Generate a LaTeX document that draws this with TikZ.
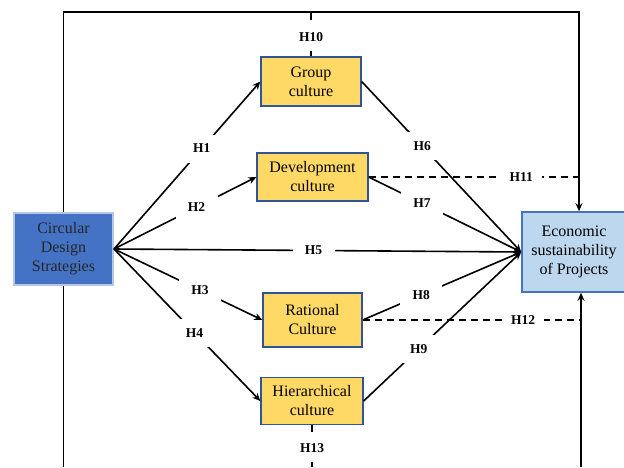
\documentclass[tikz,border=0pt]{standalone}
\usepackage{fontspec}
\setmainfont{Liberation Serif}
\usetikzlibrary{arrows.meta}
\definecolor{gold}{HTML}{FFD966}
\definecolor{edgeblue}{HTML}{2F5597}
\definecolor{strongblue}{HTML}{4472C4}
\definecolor{paleblue}{HTML}{BDD7EE}
\definecolor{lineblue}{HTML}{B4C7E7}
\begin{document}
\begin{tikzpicture}[
  x=1pt, y=-1pt,
  font=\fontsize{16}{19}\selectfont,
  box/.style={draw=edgeblue, line width=1.3pt, align=center, inner sep=2pt, fill=gold},
  source/.style={box, draw=lineblue, line width=2pt, fill=strongblue, text=black!85},
  target/.style={box, draw=strongblue, line width=1.6pt, fill=paleblue},
  hyp/.style={font=\fontsize{13.5}{15}\selectfont\bfseries, fill=white, inner sep=0pt,
              minimum width=42pt, minimum height=28pt},
  flow/.style={draw, line width=1.6pt, -{Stealth[length=8pt,width=7pt]}},
  link/.style={draw, line width=1.6pt},
  mod/.style={draw, line width=1.6pt, dash pattern=on 7pt off 5pt},
]
\useasboundingbox (0,0) rectangle (624,467);

% ---------------- the variables ----------------
\node[source, minimum width=99pt, minimum height=72pt] (cds) at (63.5,249)
  {Circular\\Design\\Strategies};
\node[box, minimum width=100pt, minimum height=49pt] (group) at (311,81.5)   {Group\\culture};
\node[box, minimum width=111pt, minimum height=48pt] (dev)   at (312.5,177)  {Development\\culture};
\node[box, minimum width=99pt,  minimum height=54pt] (rat)   at (312.5,320)  {Rational\\Culture};
\node[box, minimum width=102pt, minimum height=47pt] (hier)  at (312,401)    {Hierarchical\\culture};
\node[target, minimum width=104pt, minimum height=80pt] (econ) at (574,252)
  {Economic\\sustainability\\of Projects};

\coordinate (tr)   at (579,12);
\coordinate (botl) at (63.5,467);
\coordinate (botr) at (581,467);
\coordinate (top)  at (311,12);
\coordinate (bot)  at (312,467);
\coordinate (m11)  at (579,177);
\coordinate (m12)  at (581,320);

% ---------------- strategies to cultures ----------------
\draw[flow] (cds.east) -- node[hyp, pos=0.6]  {H1} (group.west);
\draw[flow] (cds.east) -- node[hyp, pos=0.58] {H2} (dev.west);
\draw[flow] (cds.east) -- node[hyp, pos=0.58] {H3} (rat.west);
\draw[flow] (cds.east) -- node[hyp, pos=0.55] {H4} (hier.west);
\draw[flow] (cds.east) -- node[hyp, pos=0.49] {H5} (econ.west);

% ---------------- cultures to sustainability ----------------
\draw[flow] (group.east) -- node[hyp, pos=0.38] {H6} (econ.west);
\draw[flow] (dev.east)   -- node[hyp, pos=0.35] {H7} (econ.west);
\draw[flow] (rat.east)   -- node[hyp, pos=0.37] {H8} (econ.west);
\draw[flow] (hier.east)  -- node[hyp, pos=0.35] {H9} (econ.west);

% ---------------- the outer paths ----------------
\draw[flow] (cds.north) |- (tr) -- (tr |- econ.north);
\draw[link] (cds.south) -- (botl);
\draw[flow] (botr) -- (botr |- econ.south);

% ---------------- moderating links ----------------
\draw[mod] (group.north) -- node[hyp, pos=0.44]  {H10} (top);
\draw[mod] (dev.east)    -- node[hyp, pos=0.725] {H11} (m11);
\draw[mod] (rat.east)    -- node[hyp, pos=0.735] {H12} (m12);
\draw[mod] (hier.south)  -- node[hyp, pos=0.55]  {H13} (bot);

\end{tikzpicture}
\end{document}
